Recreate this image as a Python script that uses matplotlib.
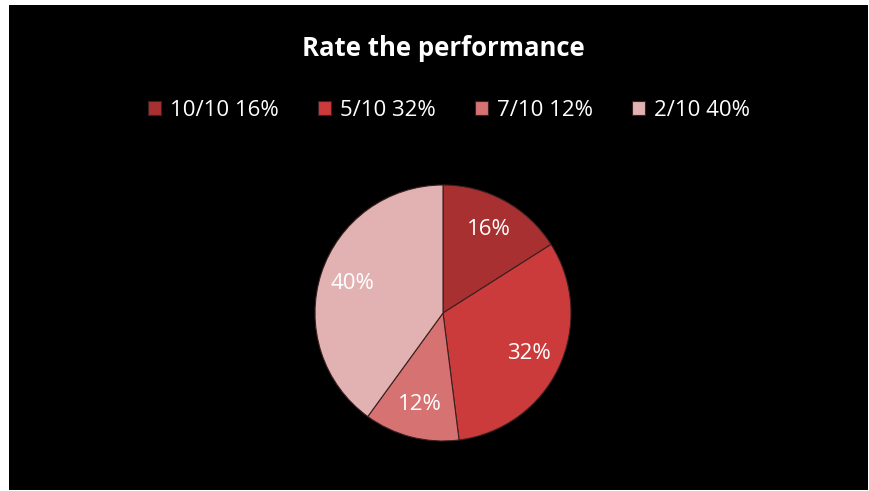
import matplotlib.pyplot as plt
from matplotlib.patches import Rectangle

# poll results
ratings = ["10/10", "5/10", "7/10", "2/10"]
shares = [16, 32, 12, 40]
colors = ["#a83030", "#cc3b3b", "#d77272", "#e2b2b2"]

plt.rcParams['font.family'] = ['Open Sans', 'DejaVu Sans']

fig = plt.figure(figsize=(8.69, 4.91), dpi=100, facecolor="white")

# black chart area inside a thin white margin
fig.patches.append(Rectangle((9 / 869, 1 - 490 / 491), 859 / 869, 485 / 491,
                             transform=fig.transFigure, facecolor="black",
                             edgecolor="none", zorder=-5))

ax = fig.add_axes([315 / 869, 1 - 441 / 491, 256 / 869, 256 / 491])
ax.set_zorder(2)
ax.patch.set_visible(False)
wedges, texts, autotexts = ax.pie(
    shares, colors=colors, startangle=90, counterclock=False,
    autopct="%d%%", pctdistance=0.74,
    wedgeprops=dict(edgecolor="#3a2020", linewidth=0.8),
    textprops=dict(color="white", fontsize=16))
ax.set_xlim(-1, 1)
ax.set_ylim(-1, 1)
ax.set_aspect("equal")

labels = ["{} {}%".format(r, s) for r, s in zip(ratings, shares)]
leg = fig.legend(wedges, labels, loc="center", bbox_to_anchor=(449 / 869, 1 - 110 / 491),
                 ncol=4, frameon=False, fontsize=16, labelcolor="white",
                 handlelength=0.6, handleheight=0.6, handletextpad=0.4,
                 columnspacing=1.75)

fig.text(443 / 869, 1 - 49 / 491, "Rate the performance", color="white",
         fontsize=18.5, fontweight="bold", ha="center", va="center")

fig.savefig("out.png", dpi=100, facecolor="white")
